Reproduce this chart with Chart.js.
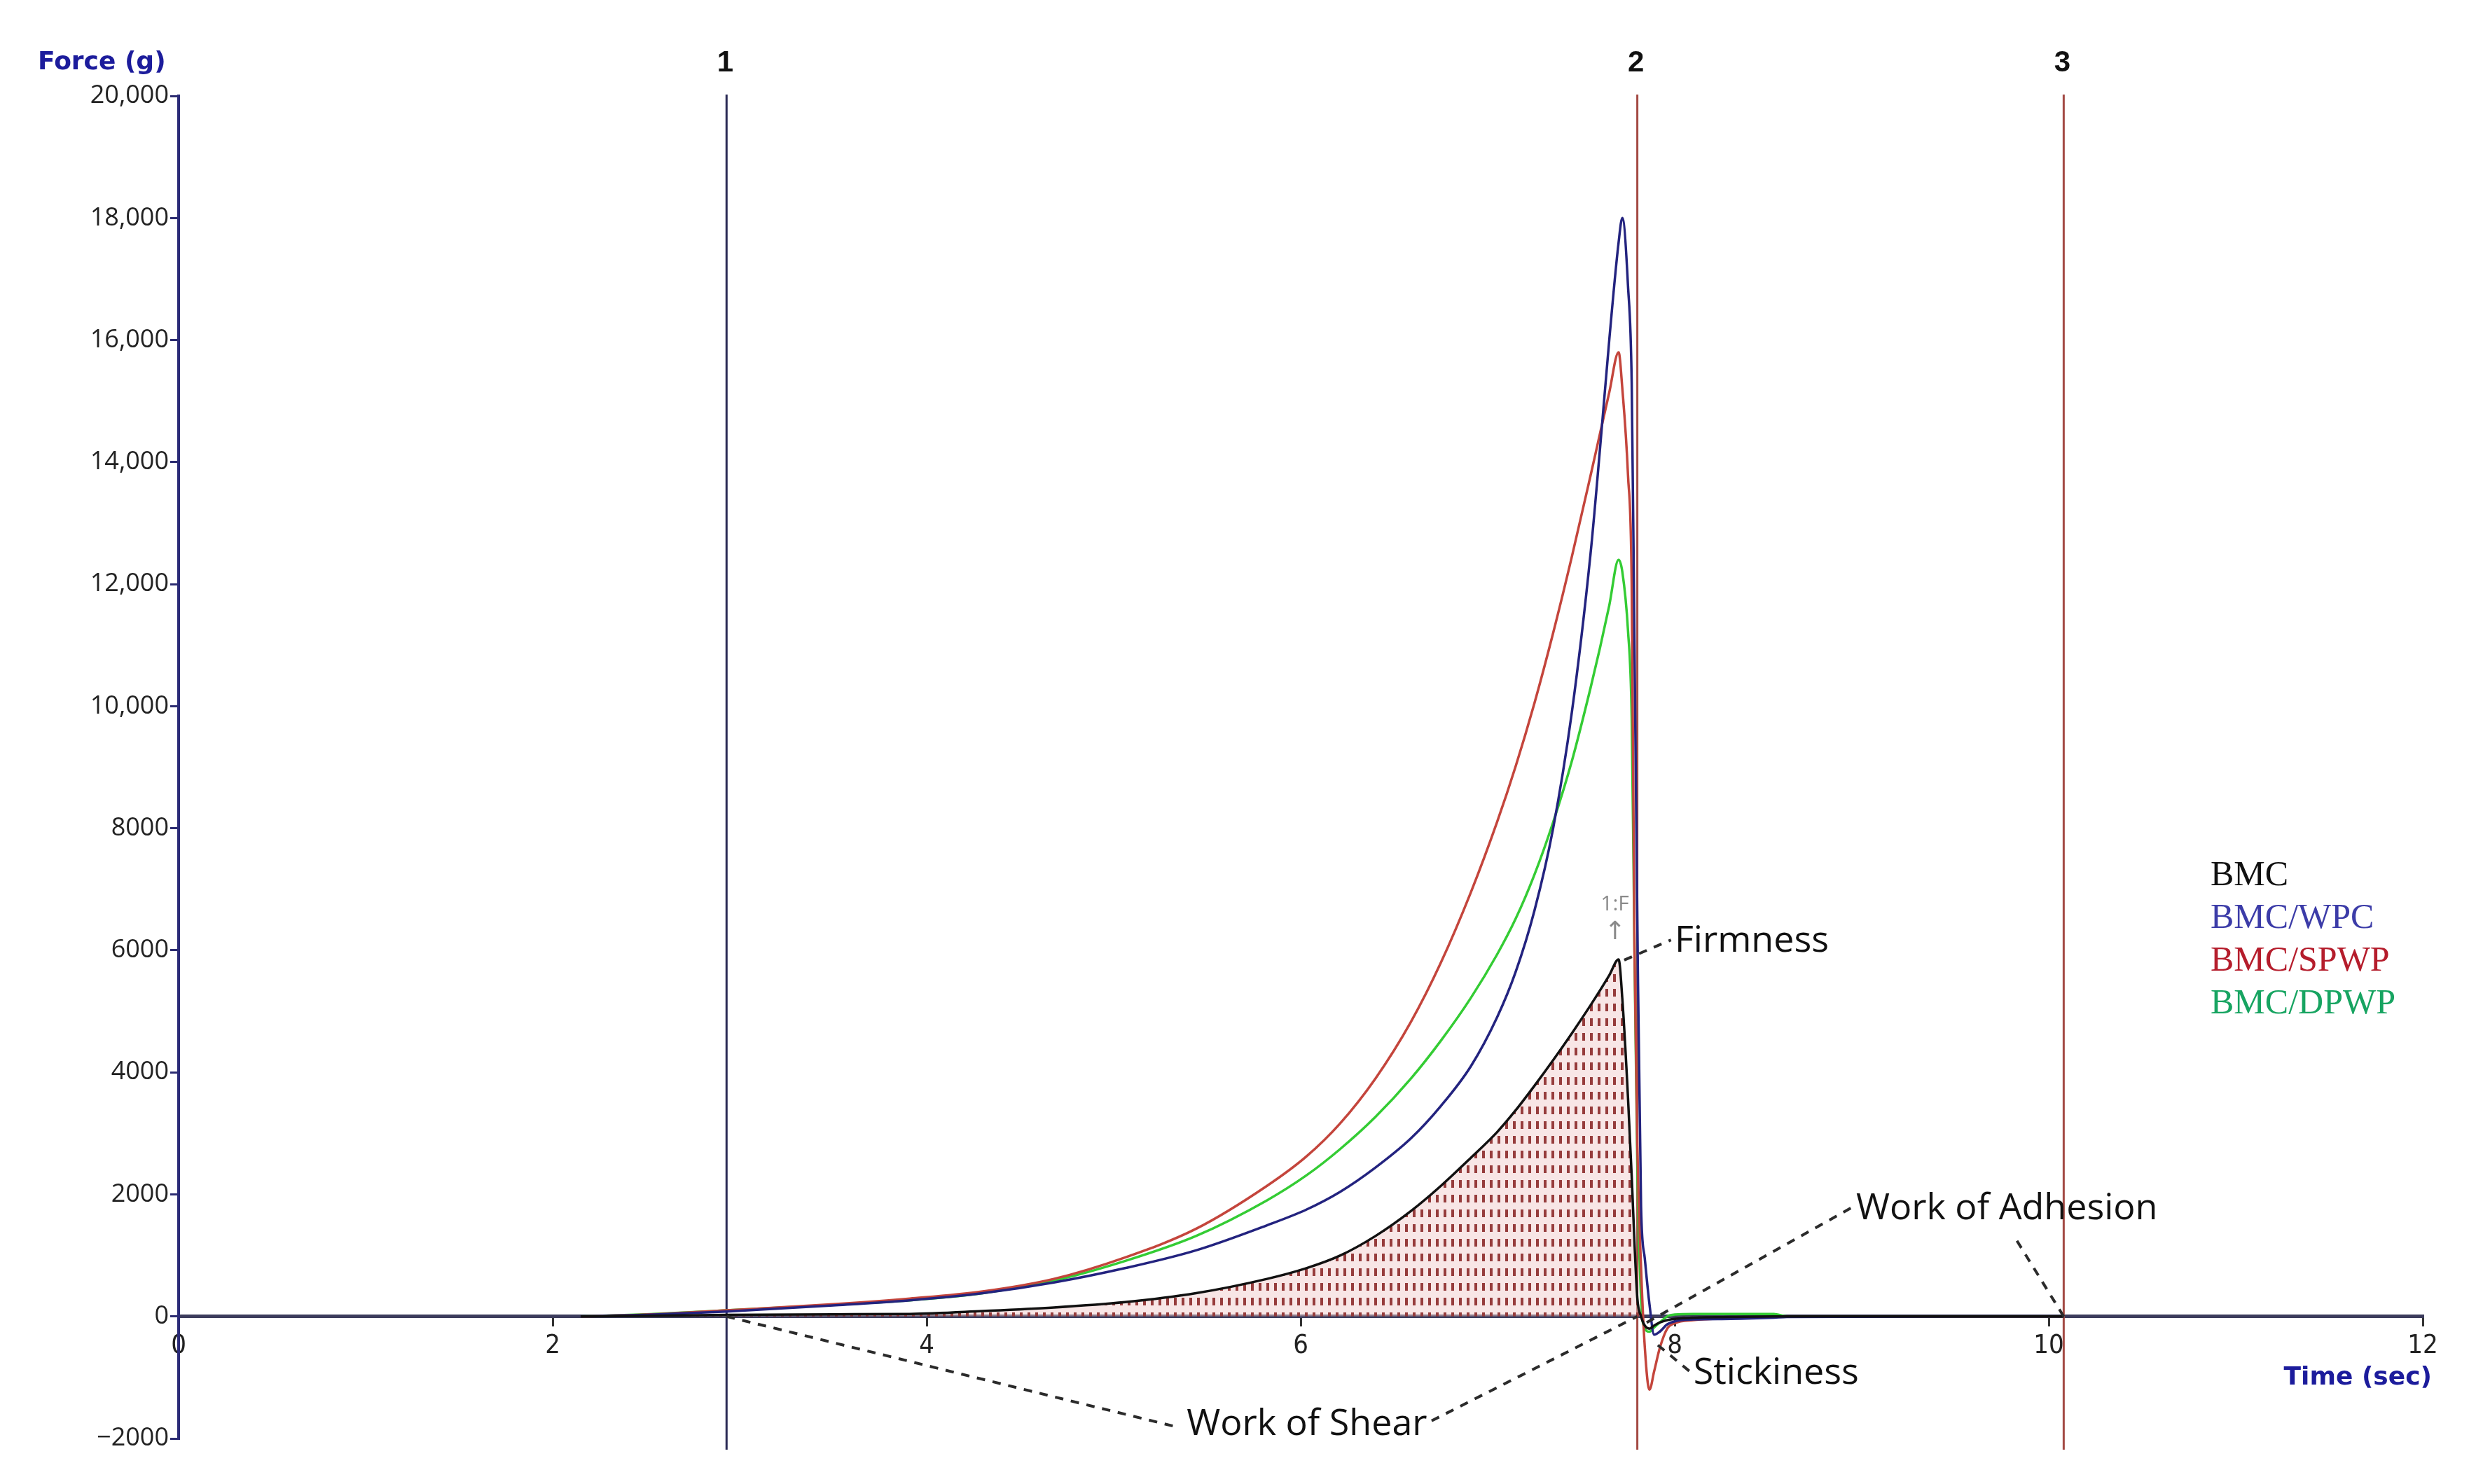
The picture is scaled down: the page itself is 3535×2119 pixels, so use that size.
<!DOCTYPE html>
<html lang="en">
<head>
<meta charset="UTF-8">
<title>Force vs time</title>
<script src="https://cdn.jsdelivr.net/npm/chart.js@4.4.1/dist/chart.umd.min.js"></script>
<style>
  body { margin: 0; background: #fff; }
  #wrap { width: 3535px; height: 2119px; }
</style>
</head>
<body>
<div id="wrap"><canvas id="myChart" width="3535" height="2119"></canvas></div>
<script>
// time (sec) shared by all curves
const timeSec = [2.15, 2.5, 2.93, 3.5, 3.91, 4.3, 4.68, 5.06, 5.44, 5.82, 6.03, 6.21, 6.4, 6.59, 6.75, 6.91,
  7.05, 7.15, 7.25, 7.35, 7.45, 7.55, 7.6, 7.65, 7.7, 7.72, 7.75, 7.77, 7.785, 7.8, 7.82, 7.84,
  7.865, 7.89, 7.92, 7.96, 8.0, 8.1, 8.3, 8.53, 8.6, 10.08];

// force (g)
const bmc = [0, 10, 25, 35, 41, 88, 146, 234, 381, 615, 790, 996, 1318, 1728, 2140, 2600,
  3020, 3380, 3780, 4200, 4640, 5100, 5340, 5590, 5850, 5200, 3600, 2300, 1200, 300, 0, -150,
  -200, -150, -100, -60, -40, -20, -10, 0, 0, 0];
const bmcWpc = [0, 25, 80, 180, 264, 381, 556, 791, 1083, 1494, 1750, 2040, 2440, 2920, 3450, 4100,
  4900, 5650, 6650, 8000, 9900, 12500, 14200, 16000, 17600, 18000, 16900, 15300, 11000, 6500, 1800, 950,
  200, -300, -250, -130, -80, -50, -40, -20, -10, 0];
const bmcSpwp = [0, 30, 100, 200, 293, 410, 615, 966, 1435, 2140, 2620, 3160, 3900, 4830, 5800, 6950,
  8100, 9020, 10050, 11200, 12450, 13780, 14460, 15140, 15800, 15200, 13800, 12000, 6000, 2800, 800, -500,
  -1200, -900, -520, -200, -110, -60, -30, -10, 0, 0];
const bmcDpwp = [0, 35, 100, 190, 264, 381, 586, 908, 1318, 1903, 2310, 2740, 3270, 3900, 4520, 5220,
  5930, 6520, 7240, 8100, 9100, 10300, 10950, 11650, 12400, 12200, 11250, 9800, 6000, 2500, 300, -200,
  -250, -180, -100, 0, 30, 40, 40, 40, 0, 0];

const seriesNames = ['BMC', 'BMC/WPC', 'BMC/SPWP', 'BMC/DPWP'];
const lineColors = ['#111111', '#23237f', '#c4453c', '#34cc34'];
const legendColors = ['#111111', '#3c3ca8', '#b51d2c', '#17a461'];

const xTicks = [0, 2, 4, 6, 8, 10, 12];
const yTicks = [-2000, 0, 2000, 4000, 6000, 8000, 10000, 12000, 14000, 16000, 18000, 20000];

// cursors 1, 2, 3
const markerTimes = [2.93, 7.80, 10.08];
const markerLabels = ['1', '2', '3'];

// callouts in data units
const callouts = [
  { text: 'Firmness', at: [8.0, 6150], lines: [[[7.73, 5840], [7.98, 6170]]] },
  { text: 'Work of Adhesion', at: [8.97, 1757], lines: [[[7.85, -100], [8.95, 1790]], [[9.83, 1240], [10.08, 0]]] },
  { text: 'Stickiness', at: [8.10, -930], lines: [[[7.91, -470], [8.08, -900]]] },
  { text: 'Work of Shear', at: [5.39, -1770], lines: [[[2.93, 0], [5.35, -1820]], [[6.70, -1711], [7.80, 0]]] }
];

function pts(vals) {
  return timeSec.map((t, i) => ({ x: t, y: vals[i] }));
}

// dotted hatch under BMC
const tile = document.createElement('canvas');
tile.width = 11; tile.height = 21;
const tc = tile.getContext('2d');
tc.fillStyle = 'rgba(240,200,200,0.45)';
tc.fillRect(0, 0, 11, 21);
tc.fillStyle = '#963c3c';
tc.fillRect(4, 5, 4, 11);
const hatch = tc.createPattern(tile, 'repeat');

const decor = {
  id: 'decor',
  beforeDatasetsDraw(chart) {
    const { ctx, chartArea, scales } = chart;
    ctx.save();
    markerTimes.forEach((t, i) => {
      const x = scales.x.getPixelForValue(t);
      ctx.strokeStyle = i === 0 ? '#2a2a55' : '#a34a44';
      ctx.lineWidth = 3;
      ctx.beginPath();
      ctx.moveTo(x, chartArea.top - 2);
      ctx.lineTo(x, chartArea.bottom + 16);
      ctx.stroke();
      ctx.fillStyle = '#111';
      ctx.font = 'bold 42px "Liberation Sans", sans-serif';
      ctx.textAlign = 'center';
      ctx.textBaseline = 'middle';
      ctx.fillText(markerLabels[i], x - 2, 90);
    });
    ctx.restore();
  },
  afterDatasetsDraw(chart) {
    const { ctx, scales } = chart;
    const px = p => [scales.x.getPixelForValue(p[0]), scales.y.getPixelForValue(p[1])];
    ctx.save();
    ctx.strokeStyle = '#2b2b2b';
    ctx.lineWidth = 4;
    ctx.setLineDash([12, 11]);
    callouts.forEach(c => {
      c.lines.forEach(l => {
        const a = px(l[0]), b = px(l[1]);
        ctx.beginPath();
        ctx.moveTo(a[0], a[1]);
        ctx.lineTo(b[0], b[1]);
        ctx.stroke();
      });
    });
    ctx.setLineDash([]);
    ctx.fillStyle = '#111';
    ctx.font = '52px "Open Sans", sans-serif';
    ctx.textAlign = 'left';
    ctx.textBaseline = 'middle';
    callouts.forEach(c => {
      const p = px(c.at);
      ctx.fillText(c.text, p[0], p[1]);
    });

    // peak marker "1:F"
    const pk = px([7.68, 6450]);
    ctx.fillStyle = '#8a8a8a';
    ctx.font = '30px "Liberation Sans Narrow", "Open Sans", sans-serif';
    ctx.textAlign = 'center';
    ctx.fillText('1:F', pk[0], pk[1] - 26);
    ctx.font = '36px "DejaVu Sans", sans-serif';
    ctx.fillText('\u2191', pk[0], pk[1] + 14);

    // series names
    ctx.font = '50px "Liberation Serif", serif';
    ctx.textAlign = 'left';
    seriesNames.forEach((s, i) => {
      ctx.fillStyle = legendColors[i];
      ctx.fillText(s, 3156, 1251 + i * 61);
    });

    // axis titles
    ctx.fillStyle = '#1c1c9c';
    ctx.font = 'bold 36px "DejaVu Sans", sans-serif';
    ctx.fillText('Force (g)', 54, 90);
    ctx.textAlign = 'right';
    ctx.fillText('Time (sec)', 3472, 1968);
    ctx.restore();
  }
};

const datasets = [bmc, bmcWpc, bmcSpwp, bmcDpwp].map((vals, i) => ({
  label: seriesNames[i],
  data: pts(vals),
  borderColor: lineColors[i],
  borderWidth: 3.5,
  pointRadius: 0,
  cubicInterpolationMode: 'monotone',
  fill: i === 0 ? { target: 'origin', above: hatch, below: 'rgba(0,0,0,0)' } : false
}));

new Chart(document.getElementById('myChart'), {
  type: 'line',
  data: { datasets },
  plugins: [decor],
  options: {
    responsive: false,
    devicePixelRatio: 1,
    animation: false,
    layout: { padding: { left: 0, top: 137, right: 76, bottom: 65 } },
    plugins: { legend: { display: false }, tooltip: { enabled: false } },
    scales: {
      x: {
        type: 'linear',
        min: 0, max: 12,
        position: { y: 0 },
        afterBuildTicks: s => { s.ticks = xTicks.map(v => ({ value: v })); },
        ticks: {
          color: '#222',
          padding: 8,
          font: { family: '"Liberation Sans Narrow", "DejaVu Sans Condensed", sans-serif', size: 38 }
        },
        grid: { display: true, drawOnChartArea: false, drawTicks: true, tickLength: 12, color: '#333', lineWidth: 3 },
        border: { display: true, color: '#3c3c5c', width: 5 }
      },
      y: {
        min: -2000, max: 20000,
        afterBuildTicks: s => { s.ticks = yTicks.map(v => ({ value: v })); },
        afterFit: s => { s.width = 255; },
        ticks: {
          color: '#222',
          padding: 2,
          font: { family: '"Open Sans", sans-serif', size: 36 },
          callback: v => v >= 10000 ? v.toLocaleString('en-US') : (v < 0 ? '\u2212' + Math.abs(v) : String(v))
        },
        grid: { display: true, drawOnChartArea: false, drawTicks: true, tickLength: 12, color: '#2b2b70', lineWidth: 3 },
        border: { display: true, color: '#2b2b78', width: 4 }
      }
    }
  }
});
</script>
</body>
</html>
